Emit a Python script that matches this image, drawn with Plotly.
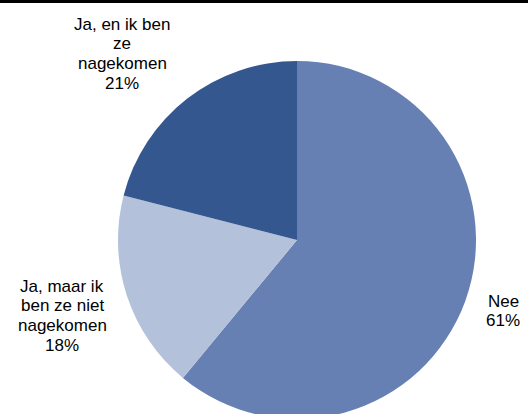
import plotly.graph_objects as go

labels = ["Nee", "Ja, maar ik ben ze niet nagekomen", "Ja, en ik ben ze nagekomen"]
label_lines = [["Nee"], ["Ja, maar ik", "ben ze niet", "nagekomen"], ["Ja, en ik ben", "ze", "nagekomen"]]
values = [61, 18, 21]
colors = ["#6780B3", "#B4C1DA", "#35578F"]

W, H = 528, 420  # slightly taller than the 414 window: the pie bottom is cut off as in the original
# label block: centre x, centre y of first line (pixels from top)
label_pos = [(503, 301), (62, 286), (122, 24)]
LINE = 19.7

fig = go.Figure(go.Pie(
    labels=labels,
    values=values,
    sort=False,
    direction="clockwise",
    rotation=0,
    textinfo="none",
    hoverinfo="label+percent",
    marker=dict(colors=colors, line=dict(width=0)),
    domain=dict(x=[118 / W, 476 / W], y=[(H - 419) / H, (H - 61) / H]),
    showlegend=False,
))

total = sum(values)
for lines, v, (px, py) in zip(label_lines, values, label_pos):
    all_lines = lines + [f"{round(100 * v / total)}%"]
    for i, ln in enumerate(all_lines):
        fig.add_annotation(
            x=px / W, y=1 - (py + i * LINE) / H, xref="paper", yref="paper",
            text=ln, showarrow=False, align="center",
            xanchor="center", yanchor="middle",
            font=dict(family="Liberation Sans, Arial, sans-serif", size=17, color="black"),
        )

fig.add_shape(type="line", xref="paper", yref="paper",
              x0=0, x1=1, y0=1 - 1.5 / H, y1=1 - 1.5 / H,
              line=dict(color="black", width=3))

fig.update_layout(
    width=W, height=H,
    margin=dict(l=0, r=0, t=0, b=0),
    paper_bgcolor="white", plot_bgcolor="white",
)

fig.write_html(
    "out.html", config={"displayModeBar": False},
    post_script="document.body.style.margin='0px';"
                "document.body.style.overflow='hidden';"
                "document.documentElement.style.overflow='hidden';",
)
